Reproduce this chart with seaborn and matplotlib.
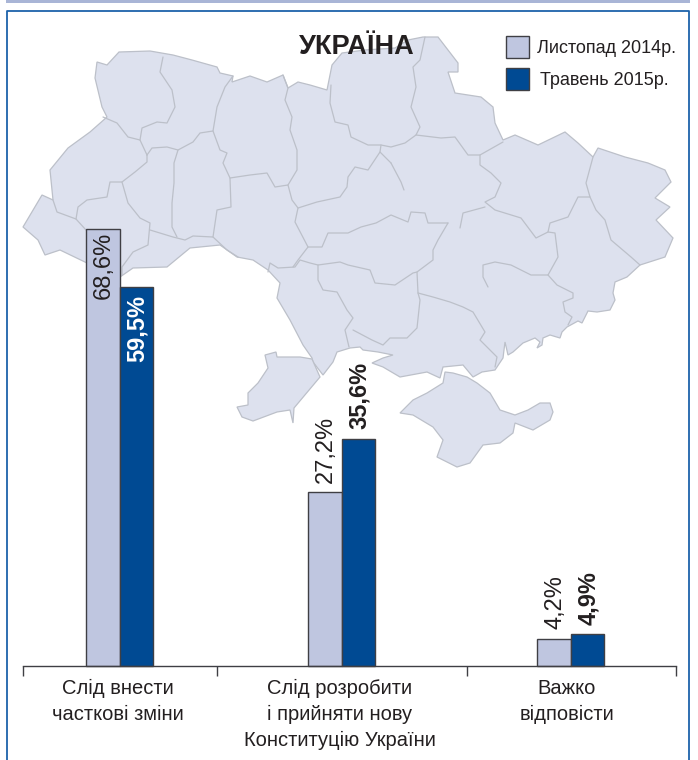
import matplotlib
matplotlib.use("Agg")
import matplotlib.pyplot as plt
import pandas as pd
import seaborn as sns

# ── Data ───────────────────────────────────────────────────────────────────────
categories = ["Слід внести\nчасткові зміни",
              "Слід розробити\nі прийняти нову\nКонституцію України",
              "Важко\nвідповісти"]
nov_2014 = [68.6, 27.2, 4.2]
may_2015 = [59.5, 35.6, 4.9]
nov_labels = ["68,6%", "27,2%", "4,2%"]
may_labels = ["59,5%", "35,6%", "4,9%"]
series_names = ["Листопад 2014р.", "Травень 2015р."]

# ── Layout (pixels of the 698x760 canvas) ──────────────────────────────────────
W, H = 698, 760
BASE_Y = 665.5
PX_PER_UNIT = 6.363
group_x = [119.5, 341.5, 570.5]
label_x = [118, 340, 567]
separators = [23, 217, 467, 676]

LIGHT = "#bfc6e0"
DARK = "#004a93"
MAP_FILL = "#dde1ee"
MAP_LINE = "#bcc0c9"
FRAME = "#1c62aa"
TEXT = "#231f20"

# ── Map background: traced outline of the country ──────────────────────────────
mainland = [
    (97,62),(107,65),(119,52),(150,51),(173,55),(192,60),(217,67),(220,73),(233,76),(232,82),
    (250,76),(267,82),(283,75),(288,88),(298,82),(310,85),(327,90),(332,65),(342,53),(365,50),
    (395,48),(408,40),(423,37),(438,37),(448,50),(458,63),(458,72),(448,72),(455,93),(481,97),
    (493,107),(495,123),(503,140),(515,135),(538,145),(565,132),(578,143),(593,157),(598,148),
    (625,157),(648,163),(665,170),(671,182),(655,198),(670,207),(656,220),(673,238),(665,257),
    (640,265),(627,277),(615,282),(613,293),(615,300),(610,310),(597,312),(588,311),(582,323),
    (578,321),(567,327),(562,332),(560,338),(550,335),(543,338),(542,345),(537,348),(540,342),
    (535,338),(523,343),(513,352),(508,355),(505,342),(503,358),(495,370),(482,372),(473,377),
    (463,365),(443,367),(440,378),(427,372),(400,377),(383,367),(372,363),(383,358),(393,355),
    (378,352),(363,350),(360,347),(350,348),(337,352),(333,362),(323,375),(313,362),(312,358),
    (303,345),(290,320),(277,298),(280,283),(268,270),(253,260),(237,257),(220,245),(190,248),
    (167,267),(133,268),(120,277),(87,263),(60,250),(45,255),(38,240),(23,227),(42,195),(53,200),
    (50,170),(68,148),(90,132),(107,117),(102,107),(95,78),
]
budjak = [
    (312,359),(300,357),(277,357),(276,352),(265,355),(268,368),(258,383),(248,393),(248,405),
    (237,407),(242,417),(253,421),(277,412),(290,410),(293,423),(294,408),(320,377),
]
crimea = [
    (400,413),(413,400),(427,393),(443,383),(445,372),(453,373),(467,377),(477,383),(490,393),
    (500,410),(515,415),(528,410),(540,403),(550,403),(553,412),(550,420),(533,430),(515,423),
    (513,433),(500,443),(483,445),(470,463),(457,467),(437,457),(443,440),(433,427),(413,415),
]
borders = [
    [(163,57),(160,72),(172,90),(175,107),(167,123),(157,122),(142,128),(140,140),(147,155)],
    [(103,117),(117,123),(128,137),(140,140)],
    [(147,155),(147,162),(135,172),(122,182),(110,182),(107,197),(87,200),(78,207),(76,219)],
    [(53,200),(57,212),(76,219),(86,230)],
    [(122,182),(128,203),(140,218),(150,223),(148,245),(133,252),(122,267),(122,275)],
    [(150,230),(173,237),(185,240),(193,236),(213,237)],
    [(178,150),(174,163),(174,183),(172,203),(172,227),(177,237)],
    [(147,155),(152,148),(167,147),(178,150),(193,142),(200,133),(213,131)],
    [(233,76),(225,87),(217,107),(213,131),(220,150),(227,153),(223,163),(230,178),(231,207),
     (217,210),(213,237),(227,250),(238,257)],
    [(230,178),(250,175),(267,173),(275,187),(288,185),(292,200),(298,208),(295,222),(308,247),
     (298,260),(293,267)],
    [(283,75),(288,88),(285,100),(292,117),(290,130),(297,150),(297,170),(288,185)],
    [(298,208),(317,202),(340,197),(347,187),(348,177),(355,167),(368,170),(380,152),(381,145)],
    [(331,85),(330,103),(335,122),(348,125),(351,137),(368,145),(381,145),(391,147),(405,143),
     (416,135)],
    [(425,37),(420,60),(413,67),(416,87),(411,107),(420,127),(416,135),(441,138),(455,137),
     (468,155),(480,155),(503,142)],
    [(480,155),(480,165),(491,173),(501,183),(495,197),(485,202),(495,210),(521,218),(536,238),
     (548,232),(555,233),(558,257),(548,275),(557,285),(573,293),(573,298),(563,302),(565,312),
     (572,317),(568,325)],
    [(593,157),(586,183),(590,197),(578,197),(568,217),(550,223),(548,232)],
    [(590,197),(596,210),(605,220),(611,240),(631,257),(640,265)],
    [(485,207),(463,213),(460,228)],
    [(448,223),(438,240),(433,250),(433,260),(417,272),(413,273),(395,285),(375,283),(370,270),
     (348,265),(340,262),(318,265),(310,263),(300,260),(295,267),(278,268),(270,263),(268,272)],
    [(391,163),(401,182),(404,190)],
    [(380,152),(391,163)],
    [(308,247),(322,247),(328,233),(348,233),(361,227),(376,223),(391,215),(408,222),(411,212),
     (425,213),(428,223),(448,223)],
    [(417,272),(418,293),(433,297),(450,302),(463,307),(473,312),(485,332),(480,340),(497,357),
     (495,367)],
    [(548,275),(531,275),(511,265),(495,262),(483,265),(483,277),(488,287)],
    [(318,265),(318,280),(323,290),(337,292),(347,310),(353,318),(345,330),(349,347)],
    [(353,330),(372,340),(383,345),(390,338),(407,338),(417,328),(420,300),(418,293)],
]

# ── Figure ─────────────────────────────────────────────────────────────────────
sns.set_style("white")
plt.rcParams["font.family"] = ["Liberation Sans", "DejaVu Sans"]
fig = plt.figure(figsize=(W / 100, H / 100), dpi=100)

bg = fig.add_axes([0, 0, 1, 1], zorder=0)
bg.set_xlim(0, W)
bg.set_ylim(H, 0)
bg.axis("off")
# top band and blue frame (open at the bottom)
bg.fill_between([6, 690], 0, 2.5, color="#a9b5d6", lw=0)
bg.plot([7, 7, 689, 689], [H, 11, 11, H], color=FRAME, lw=1.3)
for poly in (mainland, budjak, crimea):
    xs, ys = zip(*poly)
    bg.fill(xs, ys, facecolor=MAP_FILL, edgecolor=MAP_LINE, lw=0.9)
for line in borders:
    xs, ys = zip(*line)
    bg.plot(xs, ys, color=MAP_LINE, lw=0.9)
bg.text(356.5, 47, "УКРАЇНА", ha="center", va="center", fontsize=19.5,
        fontweight="bold", color=TEXT)

# ── Bars ───────────────────────────────────────────────────────────────────────
ax = fig.add_axes([0, 0, 1, 1], zorder=1)
ax.patch.set_alpha(0)

df = pd.DataFrame({
    "x": group_x * 2,
    "value": nov_2014 + may_2015,
    "period": [series_names[0]] * 3 + [series_names[1]] * 3,
})
sns.barplot(
    data=df, x="x", y="value", hue="period",
    hue_order=series_names,
    palette={series_names[0]: LIGHT, series_names[1]: DARK},
    native_scale=True,
    saturation=1,
    width=67 / 222,
    gap=0,
    edgecolor="#3f3f44",
    linewidth=1.0,
    ax=ax,
)
ax.set_xlim(0, W)
ax.set_ylim(-(H - BASE_Y) / PX_PER_UNIT, BASE_Y / PX_PER_UNIT)
ax.set_xlabel("")
ax.set_ylabel("")
ax.set_yticks([])

# axis line with separator ticks, category names on minor ticks
for side in ("left", "right", "top"):
    ax.spines[side].set_visible(False)
ax.spines["bottom"].set_position(("data", 0))
ax.spines["bottom"].set_bounds(separators[0], separators[-1])
ax.spines["bottom"].set_color("#3f3f44")
ax.spines["bottom"].set_linewidth(1.0)
ax.set_xticks(separators, [""] * len(separators))
ax.set_xticks(label_x, categories, minor=True)
ax.tick_params(axis="x", which="major", length=7, width=1.0, color="#3f3f44", bottom=True)
ax.tick_params(axis="x", which="minor", length=0, pad=10, bottom=True)
for label in ax.get_xticklabels(minor=True):
    label.set_fontsize(14.5)
    label.set_color(TEXT)
    label.set_linespacing(1.43)

# rotated value labels; the first group sits inside its bars
label_sets = [(nov_labels, "normal"), (may_labels, "bold")]
for cont, (labels, weight) in zip(ax.containers, label_sets):
    for i, (bar, text) in enumerate(zip(cont, labels)):
        inside = i == 0
        color = "white" if inside and weight == "bold" else TEXT
        pad = 2 if weight == "normal" else 5.5
        ax.annotate(
            text,
            (bar.get_x() + bar.get_width() / 2, bar.get_height()),
            xytext=(1, -pad if inside else 7),
            textcoords="offset points",
            ha="center", va="top" if inside else "bottom",
            rotation=90, fontsize=17, fontweight=weight, color=color,
        )

# ── Legend ─────────────────────────────────────────────────────────────────────
sns.move_legend(
    ax, "upper left",
    bbox_to_anchor=(506 / W, 1 - 36 / H),
    title=None, frameon=False,
    borderpad=0, borderaxespad=0,
    fontsize=13,
    handlelength=1.28, handleheight=1.5,
    handletextpad=0.42, labelspacing=0.55,
)
leg_texts = ax.get_legend().get_texts()
for t in leg_texts:
    t.set_color(TEXT)
leg_texts[1].set_x(3)

fig.savefig("out.png", dpi=100)
